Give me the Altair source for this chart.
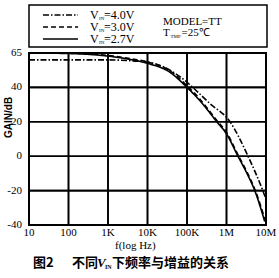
import altair as alt
import pandas as pd

# ---- data ----
freq_27 = [10, 100, 1000, 3000, 1e4, 3.7e4, 1e5, 2.1e5, 5.7e5, 1e6, 1.95e6, 3.3e6, 5.2e6, 9.3e6]
gain_27 = [60, 59.7, 58.2, 56.6, 54, 48.8, 40, 32.4, 20, 13, 0, -10, -20, -38]
freq_30 = [10, 100, 1000, 3000, 1e4, 3.7e4, 1e5, 2.1e5, 5.7e5, 1e6, 1.95e6, 3.3e6, 5.2e6, 9.5e6]
gain_30 = [60, 59.9, 58.6, 57.0, 54.8, 49.6, 41.0, 33.3, 20.8, 13.8, 0.8, -9.2, -19.2, -37]
freq_40 = [10, 100, 1000, 3000, 1e4, 3.7e4, 1e5, 1.4e5, 3.8e5, 1.23e6, 3.5e6, 8.3e6, 1e7]
gain_40 = [56, 56, 56, 55.6, 54.7, 50, 43, 40, 30.6, 20, 0, -20, -25]

x_ticks = [10, 100, 1000, 1e4, 1e5, 1e6, 1e7]
x_tick_labels = ["10", "100", "1K", "10K", "100K", "1M", "10M"]
y_ticks = [-40, -20, 0, 20, 40, 60]
y_tick_labels = ["-40", "-20", "0", "20", "40", "65"]

df40 = pd.DataFrame({"f": freq_40, "gain": gain_40})
df30 = pd.DataFrame({"f": freq_30, "gain": gain_30})
df27 = pd.DataFrame({"f": freq_27, "gain": gain_27})

# grid lines built from the tick lists (two end points each)
grows = []
for i, f in enumerate(x_ticks):
    grows.append({"f": f, "gain": y_ticks[0], "gid": f"v{i}"})
    grows.append({"f": f, "gain": y_ticks[-1], "gid": f"v{i}"})
for i, g in enumerate(y_ticks):
    grows.append({"f": x_ticks[0], "gain": g, "gid": f"h{i}"})
    grows.append({"f": x_ticks[-1], "gain": g, "gid": f"h{i}"})
gdf = pd.DataFrame(grows)

W, H = 237, 172
serif = "Liberation Serif"

x_scale = alt.Scale(type="log", domain=[10, 1e7], nice=False)
y_scale = alt.Scale(domain=[-40, 60], nice=False, zero=False)

x_enc = alt.X("f:Q", scale=x_scale, axis=None)
y_enc = alt.Y("gain:Q", scale=y_scale, axis=None)

xt = pd.DataFrame({"f": x_ticks, "xlab": x_tick_labels})
yt = pd.DataFrame({"gain": y_ticks, "ylab": y_tick_labels})

grid = alt.Chart(gdf).mark_line(color="black", strokeWidth=1.6).encode(
    x=x_enc, y=y_enc, detail="gid:N")
vgrid = alt.Chart(pd.DataFrame({"f": x_ticks})).mark_rule(color="black", strokeWidth=1.6).encode(
    x=x_enc, y=alt.value(0), y2=alt.value(H))
hgrid = alt.Chart(pd.DataFrame({"gain": y_ticks})).mark_rule(color="black", strokeWidth=1.6).encode(
    y=y_enc, x=alt.value(0), x2=alt.value(W))

xlabels = alt.Chart(xt).mark_text(font=serif, fontSize=11, color="black", baseline="middle").encode(
    x=x_enc, y=alt.value(H + 8), text="xlab:N")
ylabels = alt.Chart(yt).mark_text(font=serif, fontSize=11, color="black", align="right",
                                  baseline="middle").encode(
    y=y_enc, x=alt.value(-7), text="ylab:N")

def line(data, dash):
    return alt.Chart(data).mark_line(
        color="black", strokeWidth=1.6, strokeDash=dash, interpolate="monotone"
    ).encode(x=x_enc, y=y_enc)

curves = line(df40, [6, 2, 1.5, 2]) + line(df30, [5, 3]) + line(df27, [1, 0])

one = pd.DataFrame({"a": [0]})

def txt(t, x, y, size=11, font=serif, weight="normal", style="normal", align="left", angle=0):
    kw = dict(text=t, font=font, fontSize=size, fontWeight=weight, fontStyle=style,
              align=align, baseline="middle", color="black")
    if angle:
        kw["angle"] = angle
    return alt.Chart(one).mark_text(**kw).encode(x=alt.value(x), y=alt.value(y))

def seg(x1, x2, y, dash):
    return alt.Chart(one).mark_rule(color="black", strokeWidth=1.6, strokeDash=dash).encode(
        x=alt.value(x1), x2=alt.value(x2), y=alt.value(y))

box = alt.Chart(one).mark_rect(fill="transparent", stroke="black", strokeWidth=1.5).encode(
    x=alt.value(0), x2=alt.value(238), y=alt.value(-48), y2=alt.value(-6))

legend = box + seg(14, 49, -38, [6, 2, 1.5, 2]) + seg(14, 49, -26, [5, 3]) + seg(14, 49, -14, [1, 0])
for yy, lab in zip([-38, -26, -14], ["4.0V", "3.0V", "2.7V"]):
    legend = legend + txt("V", 61, yy, 12) + txt("IN", 70, yy + 3, 5) + txt("=" + lab, 75, yy, 12)
legend = legend + txt("MODEL=TT", 134, -31, 11) + txt("T", 134, -20, 11) + \
    txt("TMP", 141.5, -17, 5) + txt("=25℃", 152.5, -20, 11)

border = alt.Chart(one).mark_rect(fill="transparent", stroke="black", strokeWidth=2).encode(
    x=alt.value(0), x2=alt.value(W), y=alt.value(0), y2=alt.value(H))

annot = txt("GAIN/dB", -20, 85, 10, "Liberation Sans", "bold", angle=270) + \
    txt("f(log Hz)", 86, 193, 11) + \
    txt("图2", 4, 210, 13, "Noto Sans CJK SC", "bold") + \
    txt("不同", 43, 210, 13, "Noto Sans CJK SC", "bold") + \
    txt("V", 68, 210, 13, serif, "bold", "italic") + \
    txt("IN", 76, 214, 6, serif, "bold") + \
    txt("下频率与增益的关系", 83, 210, 13, "Noto Sans CJK SC", "bold")

chart = (grid + vgrid + hgrid + curves + border + xlabels + ylabels + legend + annot).properties(
    width=W, height=H,
    autosize=alt.AutoSizeParams(type="none"),
    padding={"left": 29, "top": 53, "right": 13, "bottom": 53},
    background="white",
).configure_view(stroke=None)

chart.save("out.html", embed_options={"renderer": "svg", "actions": False})
